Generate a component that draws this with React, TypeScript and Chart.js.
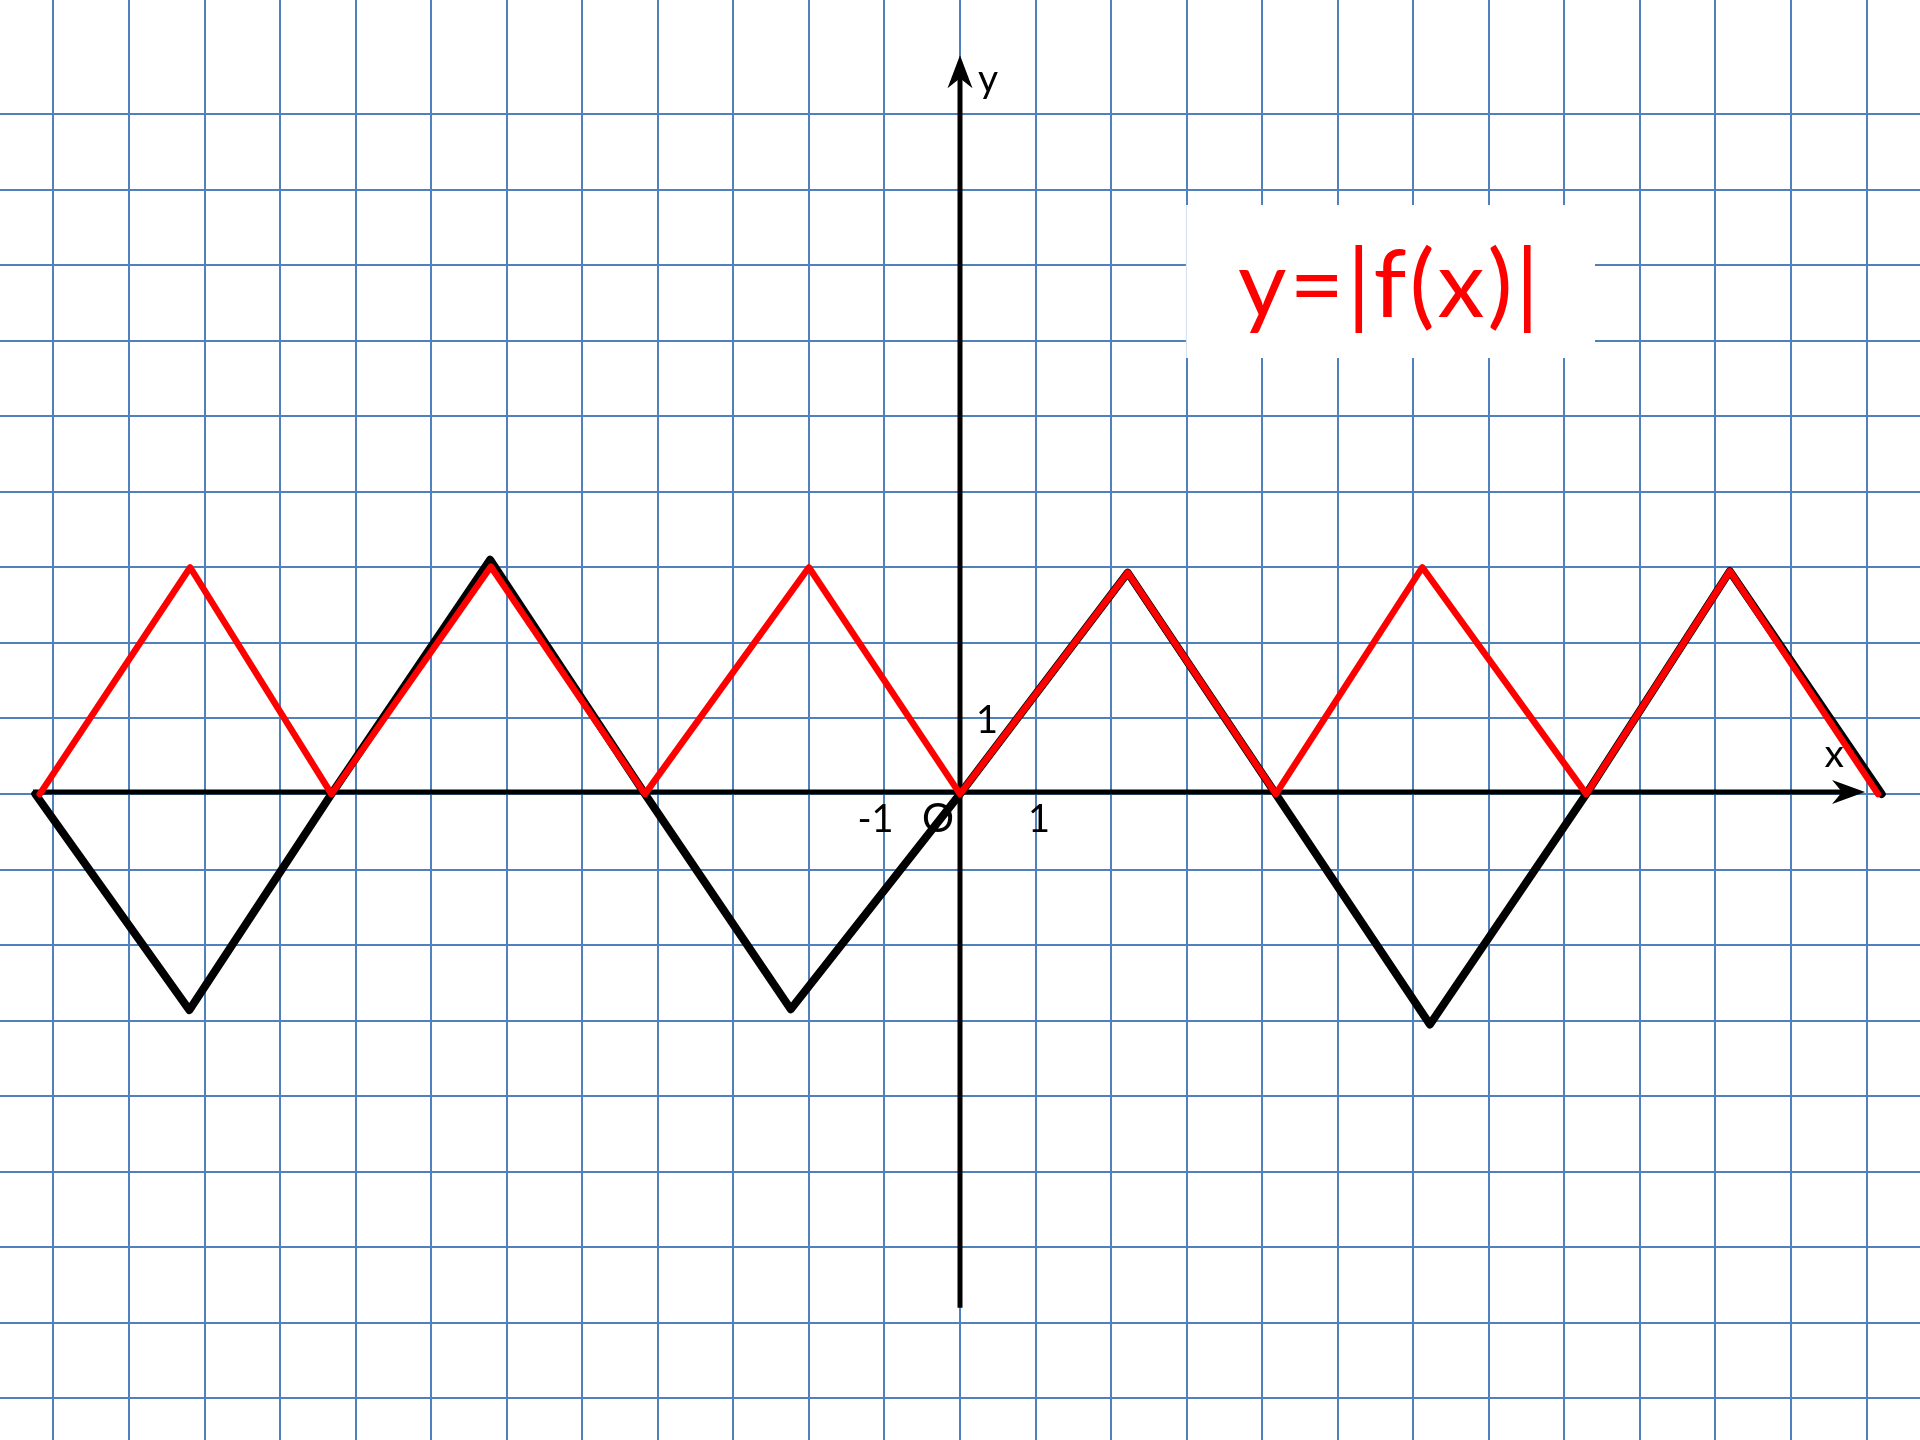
import React, { useEffect, useRef } from "react";
import { Chart, registerables } from "chart.js";

Chart.register(...registerables);

// f(x): the original (black) zig-zag
const fX = [-12.24, -10.2, -8.32, -6.22, -4.17, -2.24, 0, 2.22, 4.18, 6.22, 8.29, 10.19, 12.2];
const fY = [0, -2.86, 0, 3.1, 0, -2.85, 0, 2.93, 0, -3.05, 0, 2.95, 0];

// |f(x)|: the red graph
const absX = [-12.18, -10.19, -8.32, -6.21, -4.17, -2.0, 0, 2.22, 4.18, 6.12, 8.29, 10.19, 12.15];
const absY = [0, 3.0, 0, 3.01, 0, 3.0, 0, 2.93, 0, 3.0, 0, 2.95, 0];

const titleText = "y=|f(x)|";
const axisNames = ["x", "y"];
const tickLabels = ["1", "-1", "O", "1"];

// view window (one grid cell = one unit)
const X_MIN = -12.707;
const X_MAX = 12.707;
const Y_MIN = -8.551;
const Y_MAX = 10.51;
const Y_GRID_TOP = 9;

const GRID = "#4f81bd";
const FONT = "Lato, 'Open Sans', sans-serif";

function toPts(xs: number[], ys: number[]) {
  return xs.map((x, i) => ({ x, y: ys[i] }));
}

function intTicks(scale: any, top?: number) {
  const out: { value: number }[] = [];
  const hi = top !== undefined ? Math.min(top, Math.floor(scale.max)) : Math.floor(scale.max);
  for (let v = Math.ceil(scale.min); v <= hi; v++) out.push({ value: v });
  scale.ticks = out;
}

const overlay = {
  id: "overlay",
  beforeDatasetsDraw(chart: any) {
    const ctx = chart.ctx;
    const xs = chart.scales.x;
    const ys = chart.scales.y;
    const px = (v: number) => xs.getPixelForValue(v);
    const py = (v: number) => ys.getPixelForValue(v);
    ctx.save();
    // white box behind the formula
    const bx1 = px(2.99), bx2 = px(8.405), by1 = py(7.796), by2 = py(5.771);
    ctx.fillStyle = "#ffffff";
    ctx.fillRect(bx1, by1, bx2 - bx1, by2 - by1);
    ctx.strokeStyle = "rgba(79,129,189,0.25)";
    ctx.lineWidth = 1;
    ctx.beginPath();
    ctx.moveTo(bx1 + 0.5, by1);
    ctx.lineTo(bx1 + 0.5, by2);
    ctx.stroke();

    // axes
    ctx.strokeStyle = "#000";
    ctx.fillStyle = "#000";
    ctx.lineWidth = 5;
    ctx.lineCap = "butt";
    const y0 = py(0) - 2;
    const x0 = px(0);
    const xTip = px(11.98);
    const yTip = py(9.78);
    ctx.beginPath();
    ctx.moveTo(px(-12.27), y0);
    ctx.lineTo(xTip - 20, y0);
    ctx.stroke();
    ctx.beginPath();
    ctx.moveTo(x0, py(-6.8));
    ctx.lineTo(x0, yTip + 20);
    ctx.stroke();
    // x arrowhead
    ctx.beginPath();
    ctx.moveTo(xTip, y0);
    ctx.lineTo(xTip - 33, y0 - 12);
    ctx.lineTo(xTip - 23, y0);
    ctx.lineTo(xTip - 33, y0 + 12);
    ctx.closePath();
    ctx.fill();
    // y arrowhead
    ctx.beginPath();
    ctx.moveTo(x0, yTip);
    ctx.lineTo(x0 - 12.5, yTip + 33);
    ctx.lineTo(x0, yTip + 23);
    ctx.lineTo(x0 + 12.5, yTip + 33);
    ctx.closePath();
    ctx.fill();
    ctx.restore();
  },
  afterDatasetsDraw(chart: any) {
    const ctx = chart.ctx;
    const xs = chart.scales.x;
    const ys = chart.scales.y;
    const px = (v: number) => xs.getPixelForValue(v);
    const py = (v: number) => ys.getPixelForValue(v);
    ctx.save();
    ctx.textAlign = "center";
    ctx.textBaseline = "alphabetic";
    ctx.fillStyle = "#000";
    ctx.font = `39px ${FONT}`;
    ctx.fillText(axisNames[0], px(11.57), py(0.357));
    ctx.fillText(axisNames[1], px(0.37), py(9.29));
    ctx.font = `38px ${FONT}`;
    ctx.fillText(tickLabels[0], px(0.357), py(0.807));
    ctx.fillText(tickLabels[1], px(-1.118), py(-0.503));
    ctx.font = `40px ${FONT}`;
    ctx.fillText(tickLabels[2], px(-0.291), py(-0.503));
    ctx.font = `38px ${FONT}`;
    ctx.fillText(tickLabels[3], px(1.046), py(-0.503));
    // formula
    ctx.textAlign = "left";
    ctx.fillStyle = "#ff0000";
    ctx.font = `94px ${FONT}`;
    (ctx as any).letterSpacing = "3px";
    ctx.fillText(titleText, px(3.68), py(6.314));
    ctx.restore();
  },
};

export default function App() {
  const ref = useRef<HTMLCanvasElement | null>(null);
  useEffect(() => {
    document.body.style.margin = "0";
    const canvas = ref.current;
    if (!canvas) return;
    const chart = new Chart(canvas, {
      type: "scatter",
      data: {
        datasets: [
          {
            label: "|f(x)|",
            data: toPts(absX, absY),
            showLine: true,
            borderColor: "#ff0000",
            borderWidth: 6.5,
            pointRadius: 0,
            tension: 0,
            borderJoinStyle: "round",
            borderCapStyle: "round",
            order: 0,
          },
          {
            label: "f(x)",
            data: toPts(fX, fY),
            showLine: true,
            borderColor: "#000000",
            borderWidth: 8,
            pointRadius: 0,
            tension: 0,
            borderJoinStyle: "round",
            borderCapStyle: "round",
            order: 1,
          },
        ],
      },
      options: {
        animation: false,
        responsive: false,
        devicePixelRatio: 1,
        layout: { padding: 0 },
        plugins: { legend: { display: false }, tooltip: { enabled: false } },
        events: [],
        scales: {
          x: {
            type: "linear",
            min: X_MIN,
            max: X_MAX,
            afterBuildTicks: (s: any) => intTicks(s),
            ticks: { display: false },
            grid: { color: GRID, lineWidth: 2, drawTicks: false },
            border: { display: false },
          },
          y: {
            type: "linear",
            min: Y_MIN,
            max: Y_MAX,
            afterBuildTicks: (s: any) => intTicks(s, Y_GRID_TOP),
            ticks: { display: false },
            grid: { color: GRID, lineWidth: 2, drawTicks: false },
            border: { display: false },
          },
        },
      },
      plugins: [overlay],
    } as any);
    return () => chart.destroy();
  }, []);
  return (
    <div style={{ position: "absolute", left: 0, top: 0, width: 1920, height: 1440, background: "#fff" }}>
      <canvas ref={ref} width={1920} height={1440} style={{ display: "block", width: 1920, height: 1440 }} />
    </div>
  );
}
